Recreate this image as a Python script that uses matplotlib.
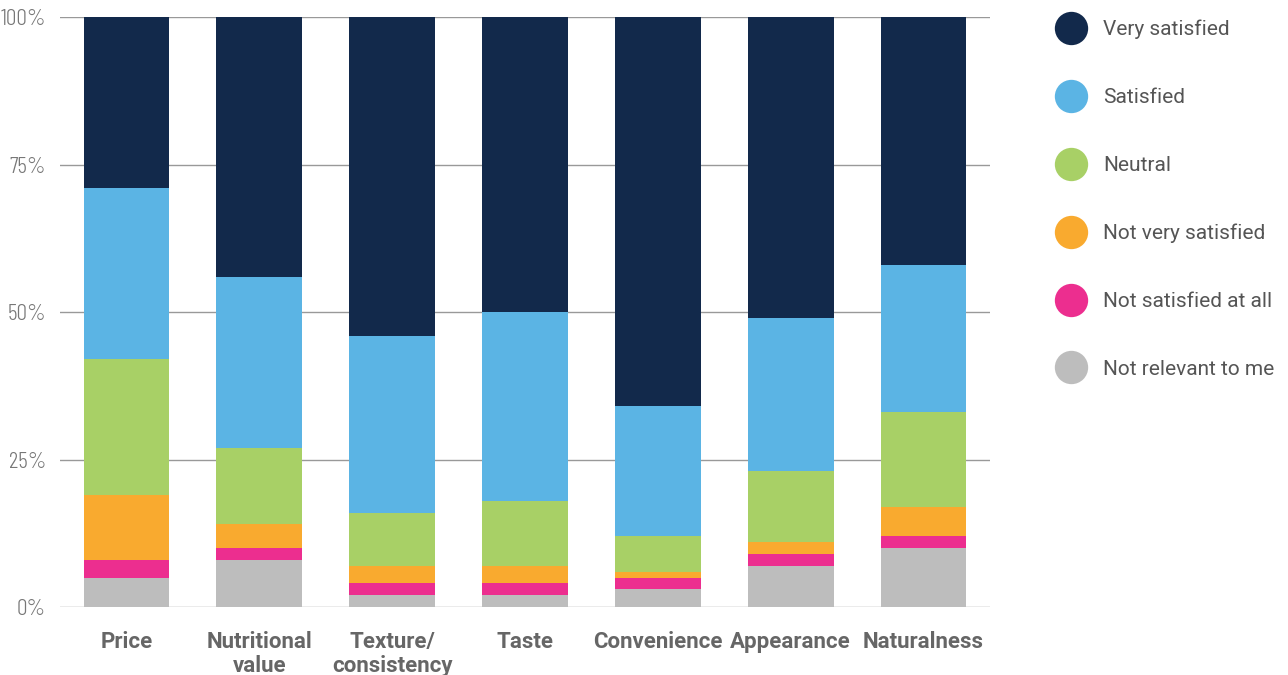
import matplotlib.pyplot as plt
from matplotlib.lines import Line2D
import numpy as np

categories = ['Price', 'Nutritional\nvalue', 'Texture/\nconsistency', 'Taste',
              'Convenience', 'Appearance', 'Naturalness']

# stacked from the bottom up
not_relevant = [5, 8, 2, 2, 3, 7, 10]
not_at_all = [3, 2, 2, 2, 2, 2, 2]
not_very = [11, 4, 3, 3, 1, 2, 5]
neutral = [23, 13, 9, 11, 6, 12, 16]
satisfied = [29, 29, 30, 32, 22, 26, 25]
very_satisfied = [29, 44, 54, 50, 66, 51, 42]

series = [
    ('Not relevant to me', not_relevant, '#BDBDBD'),
    ('Not satisfied at all', not_at_all, '#EC2E8F'),
    ('Not very satisfied', not_very, '#F9AA2F'),
    ('Neutral', neutral, '#A8D066'),
    ('Satisfied', satisfied, '#5BB4E4'),
    ('Very satisfied', very_satisfied, '#12294B'),
]

yticks = [0, 25, 50, 75, 100]
ytick_labels = ['0%', '25%', '50%', '75%', '100%']

fig = plt.figure(figsize=(12.88, 6.75), dpi=100)
ax = fig.add_axes([0.0466, 0.1007, 0.722, 0.874])

x = np.arange(len(categories))
bottom = np.zeros(len(categories))
for name, vals, col in series:
    ax.bar(x, vals, bottom=bottom, width=0.645, color=col, zorder=3, linewidth=0)
    bottom += np.array(vals)

ax.set_xlim(-0.5, 6.5)
ax.set_ylim(0, 100)
ax.set_yticks(yticks)
ax.set_yticklabels(ytick_labels, fontsize=17, color='#777777',
                   family='Barlow Condensed', fontweight=300)
ax.set_xticks(x)
ax.set_xticklabels(categories, fontsize=16, fontweight='bold', color='#666666',
                   family='Roboto', linespacing=1.15, va='top')
ax.tick_params(axis='both', length=0)
ax.tick_params(axis='x', pad=17)
ax.tick_params(axis='y', pad=10)
ax.grid(axis='y', color='#999999', linewidth=1, zorder=0)
for s in ax.spines.values():
    s.set_visible(False)

handles = [Line2D([], [], marker='o', linestyle='', markersize=24, color=col,
                  markeredgewidth=0)
           for name, vals, col in series[::-1]]
labels = [name for name, vals, col in series[::-1]]
fig.legend(handles, labels, loc='upper left', bbox_to_anchor=(0.8085, 0.983),
           frameon=False, labelcolor='#555555', labelspacing=2.34,
           handletextpad=0.56, borderaxespad=0, prop={'family': 'Roboto', 'size': 15})

fig.savefig('out.png', dpi=100)
